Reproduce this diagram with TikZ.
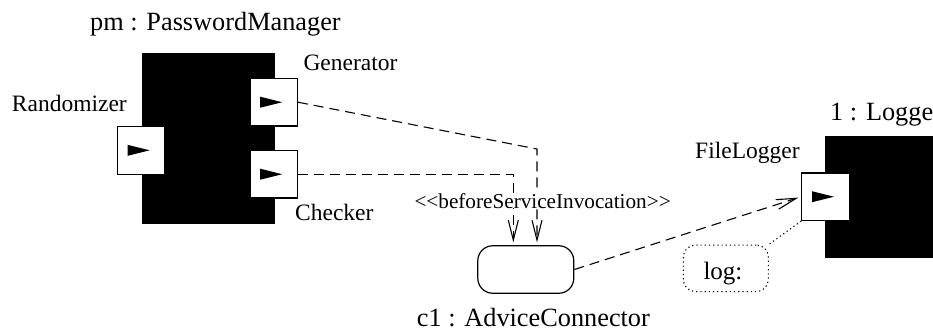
\documentclass[tikz,border=0pt]{standalone}
\usepackage{fontspec}
\setmainfont{Liberation Serif}
\usetikzlibrary{arrows.meta,calc}
\begin{document}
\begin{tikzpicture}[x=1pt,y=-1pt,
  lbl/.style={anchor=base west,inner sep=0pt,font=\fontsize{23.5pt}{28pt}\selectfont},
  biglbl/.style={anchor=base west,inner sep=0pt,text depth=0pt,font=\fontsize{26.3pt}{31pt}\selectfont},
  smalllbl/.style={anchor=base west,inner sep=0pt,font=\fontsize{21.2pt}{25pt}\selectfont,fill=white},
  blackbox/.style={draw=black,fill=black,inner sep=0pt},
  port/.style={draw=black,fill=white,line width=1.1pt,minimum width=47.5pt,minimum height=47.5pt,inner sep=0pt,
    path picture={\fill[black] ([xshift=-13.5pt,yshift=-5.5pt]path picture bounding box.center) -- ++(22pt,5.5pt) -- ++(-22pt,5.5pt) -- cycle;}},
  conn/.style={draw=black,line width=1.2pt,rounded corners=15pt,minimum width=96pt,minimum height=47.5pt,inner sep=0pt},
  note/.style={draw=black,line width=1.1pt,dash pattern=on 1.2pt off 3pt,rounded corners=12pt,minimum width=85pt,minimum height=46.5pt,inner sep=0pt},
  dep/.style={line width=1.1pt,dash pattern=on 10pt off 6pt,-{Straight Barb[length=20pt,width=10pt,line width=1.1pt]}},
  dotline/.style={line width=1.1pt,dash pattern=on 1.2pt off 3pt}]
\useasboundingbox (0,0) rectangle (933,330);
% components
\node[blackbox,minimum width=132.3pt,minimum height=169.7pt] (pm) at (207.85,137.85) {};
\node[blackbox,minimum width=175pt,minimum height=121pt] (lg) at (912.5,196.2) {};
% ports
\node[port] (rand) at (141.2,150.3) {};
\node[port] (gen) at (273.7,102.2) {};
\node[port] (chk) at (273.7,174.2) {};
\node[port] (fl) at (825.5,196.7) {};
% connector and note
\node[conn] (c1) at (525.8,269.5) {};
\node[note] (log) at (725.8,268.3) {};
% labels
\node[biglbl] (pmname) at (90,30) {pm : PasswordManager};
\node[lbl] (genname) at (303.3,70) {Generator};
\node[lbl] (randname) at (11.7,111.7) {Randomizer};
\node[lbl] (chkname) at (295,220) {Checker};
\node[biglbl] (c1name) at (416.7,326.5) {c1 : AdviceConnector};
\node[biglbl] (lgname) at (830,120) {1 : Logger};
\node[lbl] (flname) at (695,158) {FileLogger};
\node[lbl,font=\fontsize{25pt}{30pt}\selectfont] (logtext) at (703.3,279) {log:};
% connectors
\coordinate (gbend) at (537,149);
\coordinate (cbend) at (513.3,174.2);
\draw[dep,shorten >=2.7pt] (gen.east) -- (gbend) -- (gbend |- c1.north);
\draw[dep,shorten >=2.7pt] (chk.east) -- (cbend) -- (cbend |- c1.north);
\draw[dep,shorten >=3pt] (c1.east) -- (fl.west);
\draw[dotline] (fl.south west) -- (log.north east);
\node[smalllbl] (stereo) at (414.3,208) {{<}{<}beforeServiceInvocation{>}{>}};
\end{tikzpicture}
\end{document}
